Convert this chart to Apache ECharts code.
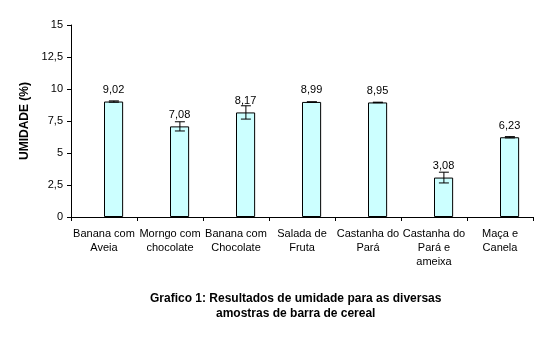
<!DOCTYPE html>
<html><head><meta charset="utf-8">
<script src="https://cdn.jsdelivr.net/npm/echarts@6/dist/echarts.min.js"></script>
<style>html,body{margin:0;padding:0;background:#fff;}#c{width:547px;height:339px;}</style>
</head><body><div id="c"></div>
<script>
const categories = ["Banana com\nAveia","Morngo com\nchocolate","Banana com\nChocolate","Salada de\nFruta","Castanha do\nPará","Castanha do\nPará e\nameixa","Maça e\nCanela"];
const values = [9.02, 7.08, 8.17, 8.99, 8.95, 3.08, 6.23];
const errors = [0.05, 0.36, 0.52, 0.0, 0.02, 0.42, 0.05];
const yTicks = [0, 2.5, 5, 7.5, 10, 12.5, 15];
const titleText = "Grafico 1: Resultados de umidade para as diversas\namostras de barra de cereal";

const FF = 'Liberation Sans, Arial, sans-serif';
const fmt = v => String(v).replace('.', ',');
const chart = echarts.init(document.getElementById('c'));
chart.setOption({
  animation: false,
  backgroundColor: '#fff',
  textStyle: {fontFamily: FF},
  graphic: [{
    type: 'text', left: 300 - 150, top: 291,
    style: {text: titleText, x: 150, textAlign: 'center', font: 'bold 12px ' + FF, fill: '#000', lineHeight: 15}
  }],
  grid: {left: 71, right: 14, top: 25, bottom: 122},
  xAxis: {
    type: 'category', data: categories,
    axisLine: {lineStyle: {color: '#000', width: 1}},
    axisTick: {show: true, lineStyle: {color: '#000'}, length: 4},
    axisLabel: {color: '#000', fontSize: 11, lineHeight: 14, interval: 0, margin: 10, fontFamily: FF}
  },
  yAxis: {
    type: 'value', min: 0, max: 15, interval: 2.5,
    name: 'UMIDADE (%)', nameLocation: 'middle', nameGap: 38,
    nameTextStyle: {fontWeight: 'bold', fontSize: 12, color: '#000', fontFamily: FF},
    axisLine: {show: true, lineStyle: {color: '#000'}},
    axisTick: {show: true, lineStyle: {color: '#000'}, length: 4},
    splitLine: {show: false},
    axisLabel: {color: '#000', fontSize: 11, formatter: v => yTicks.includes(v) ? fmt(v) : '', fontFamily: FF}
  },
  series: [
    {type: 'bar', data: values.map(() => null), barGap: '0%', barCategoryGap: '42%'},
    {type: 'bar', data: values, barGap: '0%', barCategoryGap: '42%',
     itemStyle: {color: '#ccffff', borderColor: '#000', borderWidth: 1},
     label: {show: true, position: 'top', distance: 6, color: '#000', fontSize: 11, formatter: p => p.value.toFixed(2).replace('.', ','), fontFamily: FF}
    },
    {type: 'custom', z: 10,
     data: values.map((v, i) => [i, v - errors[i], v + errors[i]]),
     renderItem: function(params, api) {
       const i = api.value(0);
       const lo = api.coord([i, api.value(1)]);
       const hi = api.coord([i, api.value(2)]);
       const bw = api.size([1, 0])[0];
       const x = lo[0] + bw * 0.15;
       const hw = 5;
       const st = {stroke: '#000', lineWidth: 1};
       return {type: 'group', children: [
         {type: 'line', shape: {x1: x, y1: lo[1], x2: x, y2: hi[1]}, style: st},
         {type: 'line', shape: {x1: x - hw, y1: lo[1], x2: x + hw, y2: lo[1]}, style: st},
         {type: 'line', shape: {x1: x - hw, y1: hi[1], x2: x + hw, y2: hi[1]}, style: st}
       ]};
     }
    }
  ]
});
</script></body></html>
